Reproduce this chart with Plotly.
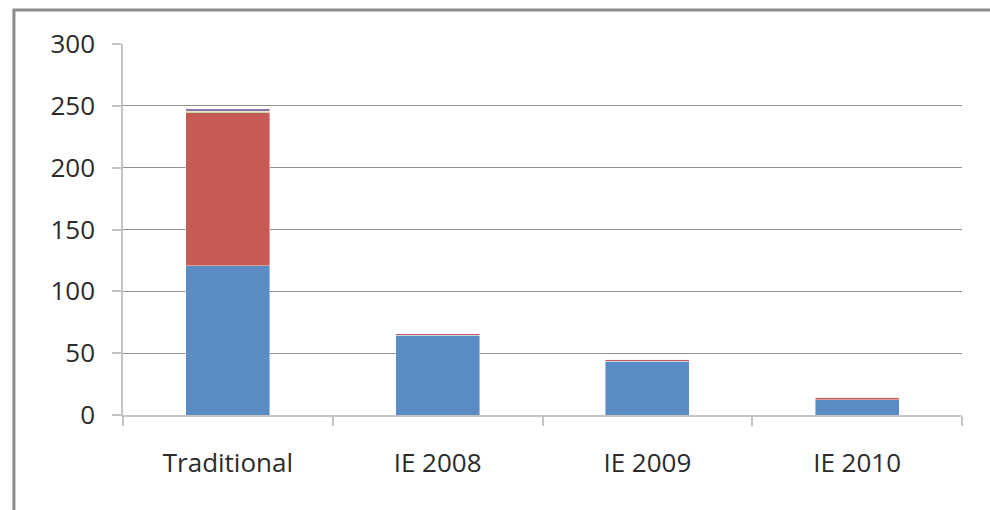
import plotly.graph_objects as go

categories = ["Traditional", "IE 2008", "IE 2009", "IE 2010"]
series1 = [120.5, 64.3, 43.5, 12.3]
series2 = [123.9, 1.5, 1.5, 2.2]
series3 = [1.3, 0, 0, 0]
series4 = [1.8, 0, 0, 0]
y_ticks = [0, 50, 100, 150, 200, 250, 300]

colors = ["#5A8BC5", "#C75A55", "#9DBC5C", "#8C73AC"]
names = ["Series 1", "Series 2", "Series 3", "Series 4"]

fig = go.Figure()
for vals, col, nm in zip([series1, series2, series3, series4], colors, names):
    fig.add_trace(go.Bar(
        x=categories, y=vals, name=nm,
        marker=dict(color=col, line=dict(width=0.6, color="rgba(255,255,255,0.7)")),
    ))

fig.update_layout(
    barmode="stack",
    bargap=0.6,
    width=990, height=510,
    margin=dict(l=123, r=28, t=44, b=94.5),
    paper_bgcolor="white",
    plot_bgcolor="white",
    showlegend=False,
    font=dict(family="Open Sans", size=26, color="#2b2b2b"),
    xaxis=dict(
        showgrid=False,
        showline=True, linecolor="#c4c4c4", linewidth=1.5,
        ticks="outside", ticklen=9, tickcolor="#c4c4c4", tickwidth=1.5,
        tickson="boundaries",
        ticklabelstandoff=24,
        tickfont=dict(size=26, color="#2b2b2b"),
    ),
    yaxis=dict(
        range=[0, 300],
        tickvals=y_ticks,
        showgrid=True, gridcolor="#929292", gridwidth=1.3,
        showline=True, linecolor="#c4c4c4", linewidth=1.5,
        ticks="outside", ticklen=9, tickcolor="#c4c4c4", tickwidth=1.5,
        zeroline=False,
        ticklabelstandoff=12,
        tickfont=dict(size=26, color="#2b2b2b"),
    ),
    shapes=[dict(
        type="rect", xref="paper", yref="paper",
        x0=-0.13, x1=1.3, y0=-0.6, y1=1.0915,
        line=dict(color="#8c8c8c", width=3), fillcolor="rgba(0,0,0,0)",
        layer="below",
    )],
)

fig.write_html("out.html")
